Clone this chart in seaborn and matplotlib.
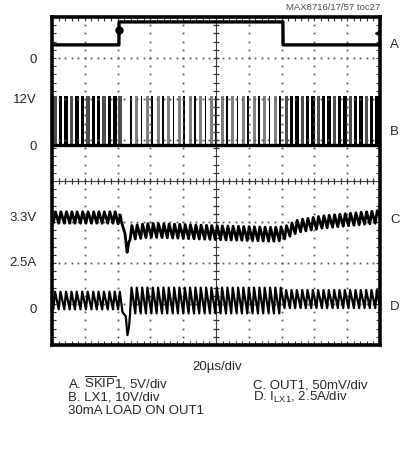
import matplotlib
matplotlib.use("Agg")
import matplotlib.pyplot as plt
import seaborn as sns
import numpy as np

# Screen: 10 div x 20us/div horizontally, 8 div vertically (values in div)
skip_t = [0, 40.8, 40.9, 140.8, 140.9, 200]
skip_v = [7.32, 7.32, 7.88, 7.88, 7.32, 7.32]

# LX1 switching pulse start times (us)
lx_left = [0.8, 4.1, 7.5, 10.8, 14.0, 17.4, 20.7, 24.1, 27.3, 30.6, 34.0, 37.2, 40.3]
lx_mid = [47.6, 50.8, 54.1, 57.3, 60.6, 63.8, 67.1, 70.3, 73.6, 76.8, 80.1, 83.3,
          86.6, 89.8, 93.1, 96.3, 99.6, 102.8, 106.1, 109.3, 112.6, 115.8, 119.1,
          122.3, 125.6, 128.8, 132.1, 135.3, 138.6]
lx_right = [141.8, 145.1, 148.3, 151.6, 154.8, 158.1, 161.3, 164.6, 167.8, 171.1,
            174.3, 177.6, 180.8, 184.1, 187.3, 190.6, 193.8, 197.1]
lx_base = 4.88
lx_top = 6.07

# OUT1 mean level envelope and ripple
out_env_t = [0, 40, 47.6, 60, 100, 135, 141, 150, 165, 200]
out_env_v = [3.11, 3.11, 2.74, 2.80, 2.74, 2.70, 2.72, 2.90, 3.00, 3.13]
out_ripple = [0.28, 0.34, 0.30]
out_dip_t = [42.5, 44.5, 45.8, 46.8]
out_dip_v = [2.98, 2.72, 2.26, 2.50]

# inductor current valleys / peaks per segment
il_valley = [0.87, 0.77, 0.90]
il_peak = [1.30, 1.40, 1.34]
il_dip_t = [43.0, 45.0, 46.0, 47.0]
il_dip_v = [0.80, 0.70, 0.24, 0.45]

left_labels = ["0", "12V", "0", "3.3V", "2.5A", "0"]
left_label_y = [60, 100, 147, 218, 263, 310]
right_labels = ["A", "B", "C", "D"]
right_label_y = [45, 132, 220, 307]

sns.set_theme(style="white")
plt.rcParams['font.family'] = ['Liberation Sans Narrow', 'Liberation Sans', 'DejaVu Sans']
plt.rcParams['mathtext.fontset'] = 'custom'
plt.rcParams['mathtext.rm'] = 'Liberation Sans'

W, H = 400, 455
fig = plt.figure(figsize=(W / 100, H / 100), dpi=100)
fig.patch.set_facecolor('white')
ax = fig.add_axes([52 / W, 1 - 345 / H, 328 / W, 328 / H])
ax.set_xlim(0, 200)
ax.set_ylim(0, 8)

# graticule dots
for k in range(1, 10):
    if k == 5:
        continue
    yy = np.arange(0, 8.01, 0.2)
    ax.plot(np.full_like(yy, k * 20), yy, ls='none', marker='s', ms=1.3, color='0.35', mew=0)
for k in range(1, 8):
    if k == 4:
        continue
    xx = np.arange(0, 200.1, 4)
    ax.plot(xx, np.full_like(xx, k), ls='none', marker='s', ms=1.3, color='0.35', mew=0)
ax.axhline(4, color='0.25', lw=0.8)
ax.axvline(100, color='0.25', lw=0.8)
xx = np.arange(0, 200.1, 4)
ax.plot(xx, np.full_like(xx, 4.0), ls='none', marker='|', ms=4, color='0.2', mew=0.9)
yy = np.arange(0, 8.01, 0.2)
ax.plot(np.full_like(yy, 100.0), yy, ls='none', marker='_', ms=4, color='0.2', mew=0.9)


def env(t):
    return np.interp(t, out_env_t, out_env_v)


segments = [(lx_left, 2.2, 1.3), (lx_mid, 1.9, 1.1), (lx_right, 2.1, 1.2)]

# LX1 pulses
for i, (pulses, w, _) in enumerate(segments):
    for j, p in enumerate(pulses):
        if i == 1:
            col = 'black' if j % 2 == 0 else '0.5'
            ww = 1.0 if j % 2 == 0 else w
        else:
            col = 'black' if j % 3 else '0.3'
            ww = w
        ax.fill_between([p, p + ww], lx_base, lx_top, color=col, lw=0)
sns.lineplot(x=[0, 200], y=[lx_base, lx_base], ax=ax, color='black', lw=2.4)

# OUT1 and IL traces
out_t, out_v, il_t, il_v = [], [], [], []
for i, (pulses, w, won) in enumerate(segments):
    a = out_ripple[i]
    for p in pulses:
        out_t += [p, p + won]
        out_v += [env(p) - a / 2, env(p + won) + a / 2]
        il_t += [p, p + won * 0.8]
        il_v += [il_valley[i], il_peak[i]]
    if i == 0:
        out_t += out_dip_t
        out_v += out_dip_v
        il_t += il_dip_t
        il_v += il_dip_v
out_t.append(200)
out_v.append(env(200))
il_t.append(200)
il_v.append(il_valley[2])
order = np.argsort(out_t, kind='stable')
sns.lineplot(x=np.array(out_t)[order], y=np.array(out_v)[order], ax=ax, color='black',
             lw=2.0, estimator=None, sort=False)
order = np.argsort(il_t, kind='stable')
sns.lineplot(x=np.array(il_t)[order], y=np.array(il_v)[order], ax=ax, color='black',
             lw=1.6, estimator=None, sort=False)

# SKIP1
sns.lineplot(x=skip_t, y=skip_v, ax=ax, color='black', lw=2.4, estimator=None, sort=False)
ax.plot([41.0], [7.68], marker='o', ms=5, color='black')
ax.plot([198.5], [7.61], marker='<', ms=5, color='black')

# frame and edge ticks
ax.set_xticks(np.arange(0, 201, 20))
ax.set_xticks(np.arange(0, 201, 4), minor=True)
ax.set_yticks(np.arange(0, 8.01, 1))
ax.set_yticks(np.arange(0, 8.01, 0.2), minor=True)
ax.tick_params(which='both', direction='in', length=3, width=0.8, color='0.2',
               top=True, right=True, bottom=True, left=True,
               labelbottom=False, labelleft=False)
for s in ax.spines.values():
    s.set_linewidth(2.6)
    s.set_color('black')

fs = 9.5
for lab, y in zip(left_labels, left_label_y):
    fig.text(37 / W, 1 - y / H, lab, ha='right', va='center', fontsize=fs)
for lab, y in zip(right_labels, right_label_y):
    fig.text(390 / W, 1 - y / H, lab, ha='left', va='center', fontsize=fs)

fig.text(380 / W, 1 - 8 / H, "MAX8716/17/57 toc27", ha='right', va='center',
         fontsize=6.8, color='0.3')
fig.text(217 / W, 1 - 367 / H, "20\u00b5s/div", ha='center', va='center', fontsize=fs)
fig.text(68 / W, 1 - 388 / H, r"A. $\overline{\mathrm{SKIP}}$1, 5V/div", ha='left',
         va='baseline', fontsize=fs)
fig.text(68 / W, 1 - 401 / H, "B. LX1, 10V/div", ha='left', va='baseline', fontsize=fs)
fig.text(253 / W, 1 - 388 / H, "C. OUT1, 50mV/div", ha='left', va='baseline', fontsize=fs)
fig.text(253 / W, 1 - 401 / H, r"D. I$_{\mathrm{LX1}}$, 2.5A/div", ha='left',
         va='baseline', fontsize=fs)
fig.text(68 / W, 1 - 411 / H, "30mA LOAD ON OUT1", ha='left', va='center', fontsize=fs)

fig.savefig("out.png", dpi=100)
